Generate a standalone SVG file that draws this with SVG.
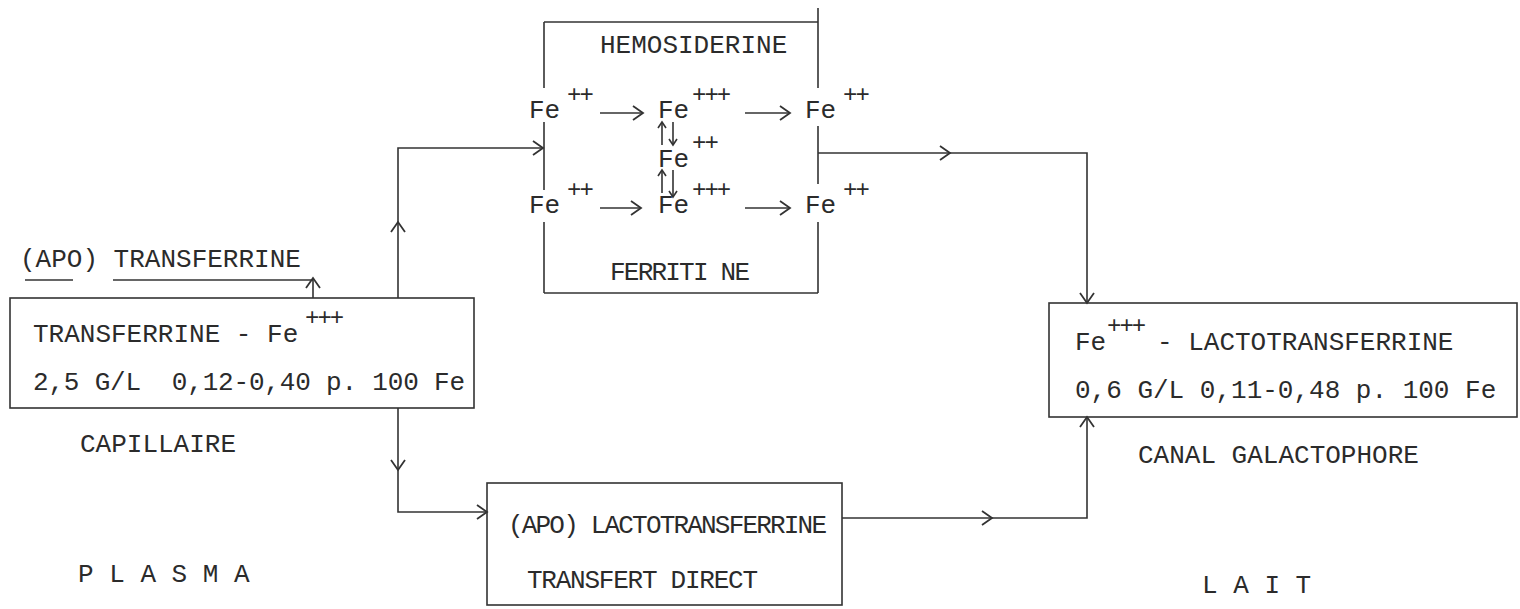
<svg xmlns="http://www.w3.org/2000/svg" width="1520" height="609" viewBox="0 0 1520 609">
<style>
text{font-family:"Liberation Mono","DejaVu Sans Mono",monospace;font-size:26px;fill:#2b2b2b}
.pre{white-space:pre}
.sup{font-size:24px;letter-spacing:-2px}
.ln{stroke:#333;stroke-width:1.6;fill:none}
.ar{marker-end:url(#a)}
.sa{marker-end:url(#s)}
</style>
<defs>
<marker id="a" viewBox="-12 -8 14 16" refX="0" refY="0" markerWidth="14" markerHeight="16" markerUnits="userSpaceOnUse" orient="auto">
<path d="M-10,-7 L0,0 L-10,7" fill="none" stroke="#333" stroke-width="1.8"/>
</marker>
<marker id="s" viewBox="-8 -6 10 12" refX="0" refY="0" markerWidth="10" markerHeight="12" markerUnits="userSpaceOnUse" orient="auto">
<path d="M-6,-4 L0,0 L-6,4" fill="none" stroke="#333" stroke-width="1.6"/>
</marker>
</defs>
<rect width="1520" height="609" fill="#fff"/>

<g id="transferrine">
<rect class="ln" x="10" y="298" width="464" height="110"/>
<text x="33" y="342">TRANSFERRINE - Fe</text>
<text class="sup" x="305" y="325">+++</text>
<text class="pre" x="33" y="390" textLength="432">2,5 G/L  0,12-0,40 p. 100 Fe</text>
</g>

<g id="apo-transferrine">
<text x="20" y="267">(APO) TRANSFERRINE</text>
<line class="ln" x1="25" y1="280" x2="73" y2="280"/>
<line class="ln" x1="113" y1="280" x2="313" y2="280"/>
</g>

<g id="capillaire"><text x="80" y="452">CAPILLAIRE</text></g>
<g id="plasma"><text x="78" y="582">P L A S M A</text></g>

<g id="hemosiderine-ferritine">
<line class="ln" x1="544" y1="22" x2="818" y2="22"/>
<line class="ln" x1="544" y1="293" x2="818" y2="293"/>
<line class="ln" x1="544" y1="22" x2="544" y2="88"/>
<line class="ln" x1="544" y1="122" x2="544" y2="190"/>
<line class="ln" x1="544" y1="222" x2="544" y2="293"/>
<line class="ln" x1="818" y1="8" x2="818" y2="88"/>
<line class="ln" x1="818" y1="126" x2="818" y2="184"/>
<line class="ln" x1="818" y1="222" x2="818" y2="293"/>
<text x="600" y="53">HEMOSIDERINE</text>
<text class="pre" x="610" y="280" textLength="140">FERRITI NE</text>
<text x="529" y="118">Fe</text><text class="sup" x="567" y="102">++</text>
<text x="658" y="118">Fe</text><text class="sup" x="692" y="102">+++</text>
<text x="805" y="118">Fe</text><text class="sup" x="843" y="102">++</text>
<text x="658" y="167">Fe</text><text class="sup" x="692" y="150">++</text>
<text x="529" y="213">Fe</text><text class="sup" x="567" y="197">++</text>
<text x="658" y="213">Fe</text><text class="sup" x="692" y="197">+++</text>
<text x="805" y="213">Fe</text><text class="sup" x="843" y="197">++</text>
<line class="ln ar" x1="600" y1="113" x2="643" y2="113"/>
<line class="ln ar" x1="745" y1="113" x2="790" y2="113"/>
<line class="ln ar" x1="600" y1="208" x2="641" y2="208"/>
<line class="ln ar" x1="745" y1="208" x2="790" y2="208"/>
<line class="ln sa" x1="662" y1="145" x2="662" y2="122"/>
<line class="ln sa" x1="673" y1="122" x2="673" y2="145"/>
<line class="ln sa" x1="662" y1="193" x2="662" y2="170"/>
<line class="ln sa" x1="673" y1="170" x2="673" y2="197"/>
</g>

<g id="apo-lactotransferrine">
<rect class="ln" x="487" y="483" width="355" height="122"/>
<text x="508" y="533" textLength="319">(APO) LACTOTRANSFERRINE</text>
<text x="527" y="588" textLength="231">TRANSFERT DIRECT</text>
</g>

<g id="lactotransferrine">
<rect class="ln" x="1049" y="303" width="468" height="114"/>
<text x="1075" y="350">Fe</text>
<text class="sup" x="1107" y="333">+++</text>
<text x="1157" y="350">- LACTOTRANSFERRINE</text>
<text x="1075" y="398">0,6 G/L 0,11-0,48 p. 100 Fe</text>
</g>

<g id="canal"><text x="1138" y="463">CANAL GALACTOPHORE</text></g>
<g id="lait"><text x="1202" y="593">L A I T</text></g>

<g id="connectors">
<line class="ln ar" x1="313" y1="298" x2="313" y2="278"/>
<line class="ln ar" x1="398" y1="298" x2="398" y2="222"/>
<polyline class="ln ar" points="398,222 398,148 543,148"/>
<line class="ln ar" x1="398" y1="408" x2="398" y2="470"/>
<polyline class="ln ar" points="398,470 398,512 487,512"/>
<line class="ln ar" x1="818" y1="153" x2="950" y2="153"/>
<polyline class="ln ar" points="950,153 1087,153 1087,303"/>
<line class="ln ar" x1="842" y1="518" x2="992" y2="518"/>
<polyline class="ln ar" points="992,518 1087,518 1087,417"/>
</g>
</svg>
